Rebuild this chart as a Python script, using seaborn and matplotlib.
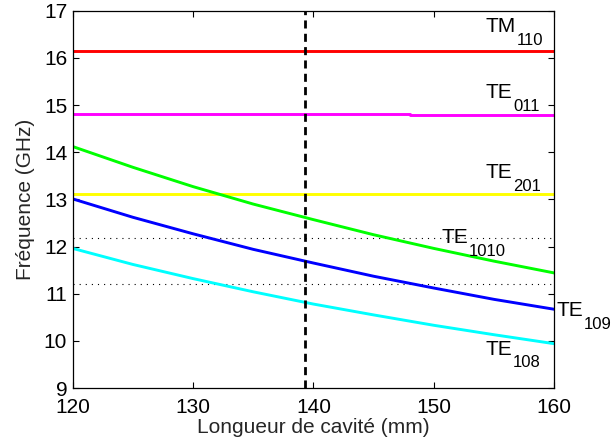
import numpy as np
import pandas as pd
import matplotlib
matplotlib.use("Agg")
import matplotlib.pyplot as plt
import seaborn as sns

# ---- data ----
length_mm = [120, 125, 130, 135, 140, 145, 150, 155, 160]
te1010 = [14.12, 13.68, 13.27, 12.90, 12.57, 12.25, 11.96, 11.69, 11.44]
te109 = [13.01, 12.62, 12.27, 11.94, 11.65, 11.37, 11.12, 10.88, 10.67]
te108 = [11.96, 11.62, 11.32, 11.04, 10.78, 10.55, 10.33, 10.13, 9.94]

flat_x = [120, 160]
tm110 = [16.15, 16.15]
te011_x = [120, 148, 148, 160]
te011 = [14.80, 14.80, 14.78, 14.78]
te201 = [13.11, 13.11]

dotted_levels = [12.19, 11.20]
cavity_length = 139.3

labels = [  # (main, sub, x, baseline y)
    ("TM", "110", 154.3, 16.55),
    ("TE", "011", 154.3, 15.15),
    ("TE", "201", 154.3, 13.45),
    ("TE", "1010", 150.6, 12.07),
    ("TE", "109", 160.2, 10.52),
    ("TE", "108", 154.3, 9.71),
]

sns.set_theme(style="white")
plt.rcParams["font.family"] = ["Liberation Sans", "DejaVu Sans"]

fig = plt.figure(figsize=(6.11, 4.46), dpi=100)
ax = fig.add_axes([0.119, 0.130, 0.788, 0.846])

lw = 2.1
# dotted reference levels
for lvl in dotted_levels:
    sns.lineplot(x=flat_x, y=[lvl, lvl], ax=ax, color="black", lw=0.8,
                 linestyle=(0, (1, 4.5)), estimator=None)

sns.lineplot(x=flat_x, y=tm110, ax=ax, color="#ff0000", lw=lw, estimator=None)
sns.lineplot(x=te011_x, y=te011, ax=ax, color="#ff00ff", lw=lw, estimator=None, sort=False)
sns.lineplot(x=flat_x, y=te201, ax=ax, color="#ffff00", lw=lw, estimator=None)
sns.lineplot(x=length_mm, y=te1010, ax=ax, color="#00ff00", lw=lw, estimator=None)
sns.lineplot(x=length_mm, y=te109, ax=ax, color="#0000ff", lw=lw, estimator=None)
sns.lineplot(x=length_mm, y=te108, ax=ax, color="#00ffff", lw=lw, estimator=None)

ax.axvline(cavity_length, color="black", lw=2.0, linestyle=(0, (2.9, 1.9)))

ax.set_xlim(120, 160)
ax.set_ylim(9, 17)
ax.set_xticks([120, 130, 140, 150, 160])
ax.set_yticks(list(range(9, 18)))
ax.tick_params(direction="in", length=4, width=0.8, labelsize=15, colors="black",
               top=True, right=True, bottom=True, left=True)
ax.tick_params(axis="x", pad=7)
ax.tick_params(axis="y", pad=4)
for s in ax.spines.values():
    s.set_visible(True)
    s.set_color("black")
    s.set_linewidth(0.9)
ax.set_xlabel("Longueur de cavité (mm)", fontsize=15, labelpad=1)
ax.set_ylabel("Fréquence (GHz)", fontsize=15, labelpad=6)

fs_main = 15
fs_sub = 12
texts = []
for main, sub, x, y in labels:
    t = ax.text(x, y, main, fontsize=fs_main, ha="left", va="baseline",
                color="black", clip_on=False)
    texts.append((t, sub, x, y))

fig.canvas.draw()
for t, sub, x, y in texts:
    w_pts = t.get_window_extent().width * 72 / fig.dpi
    ax.annotate(sub, xy=(x, y), xytext=(w_pts + 0.5, -0.5), textcoords="offset points",
                fontsize=fs_sub, ha="left", va="top", color="black",
                annotation_clip=False)

fig.savefig("out.png", dpi=100)
